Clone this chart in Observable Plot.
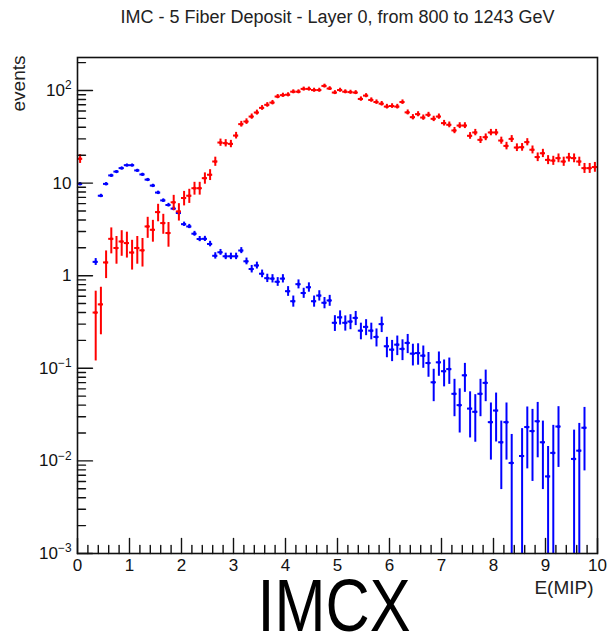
<!DOCTYPE html>
<html><head><meta charset="utf-8">
<script src="https://cdn.jsdelivr.net/npm/d3@7"></script>
<script src="https://cdn.jsdelivr.net/npm/@observablehq/plot@0.6"></script>
<style>
html,body{margin:0;padding:0;background:#fff;overflow:hidden}
#chart svg{display:block}
</style></head><body><div id="chart"></div>
<script>
const title = "IMC - 5 Fiber Deposit - Layer 0, from 800 to 1243 GeV";
const yAxisLabel = "events";
const xAxisLabel = "E(MIP)";
const caption = "IMCX";

const binCenters = [0.05,0.15,0.25,0.35,0.45,0.55,0.65,0.75,0.85,0.95,
  1.05,1.15,1.25,1.35,1.45,1.55,1.65,1.75,1.85,1.95,
  2.05,2.15,2.25,2.35,2.45,2.55,2.65,2.75,2.85,2.95,
  3.05,3.15,3.25,3.35,3.45,3.55,3.65,3.75,3.85,3.95,
  4.05,4.15,4.25,4.35,4.45,4.55,4.65,4.75,4.85,4.95,
  5.05,5.15,5.25,5.35,5.45,5.55,5.65,5.75,5.85,5.95,
  6.05,6.15,6.25,6.35,6.45,6.55,6.65,6.75,6.85,6.95,
  7.05,7.15,7.25,7.35,7.45,7.55,7.65,7.75,7.85,7.95,
  8.05,8.15,8.25,8.35,8.45,8.55,8.65,8.75,8.85,8.95,
  9.05,9.15,9.25,9.35,9.45,9.55,9.65,9.75,9.85,9.95];
const binHalfWidth = 0.05;

const blueValues = [9.8,null,null,1.41,7.3,9.8,12.1,13.3,14.5,15.6,
  15.6,13.7,12.4,10.9,9.4,7.9,6.5,5.8,5.3,4.75,
  3.6,3.4,2.84,2.49,2.5,2.2,1.64,1.79,1.62,1.62,
  1.62,1.87,1.43,1.18,1.29,1.05,0.94,0.93,0.86,0.93,
  0.68,0.53,0.81,0.65,0.75,0.53,0.61,0.51,0.54,0.31,
  0.355,0.31,0.32,0.35,0.255,0.28,0.255,0.218,0.30,0.173,
  0.159,0.18,0.162,0.188,0.144,0.146,0.137,0.114,0.0706,0.116,
  0.093,0.098,0.053,0.040,0.084,0.0367,0.0339,0.053,0.0696,0.0262,
  0.035,0.0159,0.0262,0.0095,null,0.0113,0.0232,0.021,0.0268,0.0159,
  0.0068,0.0122,0.0235,null,null,0.0105,0.0129,0.0228,null,null];
const blueErrors = [0.31,null,null,0.12,0.27,0.31,0.35,0.36,0.38,0.39,
  0.39,0.37,0.35,0.33,0.31,0.28,0.25,0.24,0.23,0.22,
  0.19,0.18,0.17,0.16,0.16,0.15,0.13,0.13,0.13,0.13,
  0.13,0.14,0.12,0.11,0.11,0.10,0.097,0.096,0.093,0.096,
  0.082,0.073,0.09,0.081,0.087,0.073,0.078,0.071,0.073,0.06,
  0.062,0.058,0.059,0.061,0.052,0.055,0.052,0.048,0.057,0.043,
  0.041,0.043,0.041,0.044,0.038,0.038,0.037,0.034,0.027,0.034,
  0.03,0.031,0.023,0.02,0.029,0.019,0.018,0.023,0.026,0.016,
  0.019,0.011,0.016,0.0098,null,0.011,0.015,0.015,0.016,0.011,
  0.0075,0.012,0.015,null,null,0.011,0.0125,0.015,null,null];

const redValues = [18.3,null,null,0.40,0.49,1.39,2.5,1.99,2.34,2.25,
  1.78,1.99,1.88,3.4,3.13,4.86,3.7,2.89,6.2,4.94,
  6.9,7.3,8.8,8.8,11.3,12.3,17.1,27.4,27,26.5,
  32.6,43.3,46.2,52.3,57.8,64.9,70,74,86,89,
  90,97,97,104,104,101,101,112,105,95,
  101,97,96,95,81,88,79,75,72,67,
  68,67,75,58,51.5,55.5,51,54.6,49.4,52.3,
  44.4,42.6,37,41.8,41.8,32.4,35.2,29.3,31.3,35.2,
  35.2,28.8,25.2,30,24.2,24.4,27.7,22.9,19.1,21,
  17.8,17.5,18.6,17.1,18.9,18.6,17.1,14.5,14.5,14.9];
const redErrors = [2.0,null,null,0.28,0.26,0.46,0.78,0.66,0.72,0.7,
  0.63,0.66,0.64,0.87,0.83,1.04,0.9,0.86,1.17,1.05,
  1.23,1.27,1.39,1.39,1.58,1.65,1.94,2.46,2.44,2.42,
  2.68,3.09,3.19,3.4,3.57,3.79,3.93,4.04,4.36,4.43,
  4.46,4.63,4.63,4.79,4.79,4.72,4.72,4.97,4.82,4.58,
  4.72,4.63,4.6,4.58,4.23,4.41,4.18,4.07,3.99,3.85,
  3.88,3.85,4.07,3.58,3.37,3.5,3.36,3.47,3.3,3.4,
  3.13,3.07,2.86,3.04,3.04,2.68,2.79,2.54,2.63,2.79,
  2.79,2.52,2.36,2.57,2.31,2.32,2.47,2.25,2.05,2.15,
  1.98,1.97,2.03,1.94,2.04,2.03,1.94,1.79,1.79,1.81];

const xTickValues = [0,1,2,3,4,5,6,7,8,9,10];
const xTickLabels = ["0","1","2","3","4","5","6","7","8","9","10"];
const yTickValues = [1e-3,1e-2,1e-1,1,10,100];
const yTickLabels = ["10^-3","10^-2","10^-1","1","10","10^2"];
const xDomain = [0, 10];
const yDomain = [1e-3, 227];

const blueColor = "#0000ff";
const redColor = "#ff0000";
const font = "'Liberation Sans', Arial, Helvetica, sans-serif";

const xMinorTicks = d3.range(0, 10.0001, 0.2).filter(v => Math.abs(v - Math.round(v)) > 1e-6);
const yMinorTicks = [];
for (let e = -3; e <= 2; e++) for (let m = 2; m <= 9; m++) {
  const v = m * Math.pow(10, e);
  if (v < yDomain[1]) yMinorTicks.push(v);
}

function rows(values, errors) {
  return binCenters.map((x, i) => ({x, y: values[i], e: errors[i]}))
    .filter(d => d.y != null)
    .map(d => ({...d, x0: d.x - binHalfWidth, x1: d.x + binHalfWidth,
      lo: Math.max(d.y - d.e, yDomain[0]), hi: Math.min(d.y + d.e, yDomain[1])}));
}
const blueRows = rows(blueValues, blueErrors);
const redRows = rows(redValues, redErrors);

const tickShape = {draw(context, length) { context.moveTo(0, 0); context.lineTo(0, -length); }};

function seriesMarks(data, color) {
  return [
    Plot.ruleX(data, {x: "x", y1: "lo", y2: "hi", stroke: color, strokeWidth: 2}),
    Plot.ruleY(data, {y: "y", x1: "x0", x2: "x1", stroke: color, strokeWidth: 2}),
    Plot.dot(data, {x: "x", y: "y", r: 1.6, fill: color, stroke: "none"})
  ];
}

const chart = Plot.plot({
  width: 616,
  height: 635,
  marginLeft: 77,
  marginRight: 19,
  marginTop: 57,
  marginBottom: 82,
  style: {fontFamily: font, fontSize: "17px", color: "#111", background: "#fff"},
  x: {domain: xDomain, label: null},
  y: {type: "log", domain: yDomain, label: null},
  marks: [
    ...seriesMarks(blueRows, blueColor),
    ...seriesMarks(redRows, redColor),
    Plot.vector(xTickValues, {x: d => d, frameAnchor: "bottom", length: 15, rotate: 0, anchor: "start", shape: tickShape, stroke: "#111", strokeWidth: 1.4}),
    Plot.vector(xMinorTicks, {x: d => d, frameAnchor: "bottom", length: 8, rotate: 0, anchor: "start", shape: tickShape, stroke: "#111", strokeWidth: 1.4}),
    Plot.vector(yTickValues, {y: d => d, frameAnchor: "left", length: 15, rotate: 90, anchor: "start", shape: tickShape, stroke: "#111", strokeWidth: 1.4}),
    Plot.vector(yMinorTicks, {y: d => d, frameAnchor: "left", length: 8, rotate: 90, anchor: "start", shape: tickShape, stroke: "#111", strokeWidth: 1.4}),
    Plot.axisX({ticks: xTickValues, tickSize: 0, tickPadding: 5, tickFormat: d => xTickLabels[xTickValues.indexOf(d)], label: null, fontSize: 17}),
    Plot.axisY({ticks: yTickValues, tickSize: 0, tickPadding: 6, tickFormat: d => yTickLabels[yTickValues.indexOf(d)], label: null, fontSize: 17}),
    Plot.frame({stroke: "#111", strokeWidth: 1.6}),
    Plot.text([title], {frameAnchor: "top", dy: -40, lineAnchor: "middle", fontSize: 18, fill: "#222"}),
    Plot.text([yAxisLabel], {frameAnchor: "top-left", dx: -59, dy: -2, rotate: -90, textAnchor: "end", lineAnchor: "middle", fontSize: 19, fill: "#222"}),
    Plot.text([xAxisLabel], {frameAnchor: "bottom-right", dx: -4, dy: 34, textAnchor: "end", lineAnchor: "middle", fontSize: 19, fill: "#222"}),
    Plot.text([caption], {frameAnchor: "bottom", dx: -3.5, dy: 77, lineAnchor: "bottom", fontSize: 74, fill: "#000"})
  ]
});

chart.querySelectorAll('[aria-label="y-axis tick label"] text').forEach(t => {
  const m = t.textContent.match(/^(\d+)\^(.+)$/);
  if (m) {
    t.textContent = m[1];
    const ts = document.createElementNS("http://www.w3.org/2000/svg", "tspan");
    ts.setAttribute("dy", "-0.55em");
    ts.setAttribute("font-size", "70%");
    ts.textContent = m[2].replace("-", "\u2212");
    t.appendChild(ts);
  }
});
chart.querySelectorAll("text").forEach(t => {
  if (t.textContent === caption) {
    t.setAttribute("textLength", "153");
    t.setAttribute("lengthAdjust", "spacingAndGlyphs");
  }
});

document.getElementById("chart").appendChild(chart);
</script>
</body></html>
